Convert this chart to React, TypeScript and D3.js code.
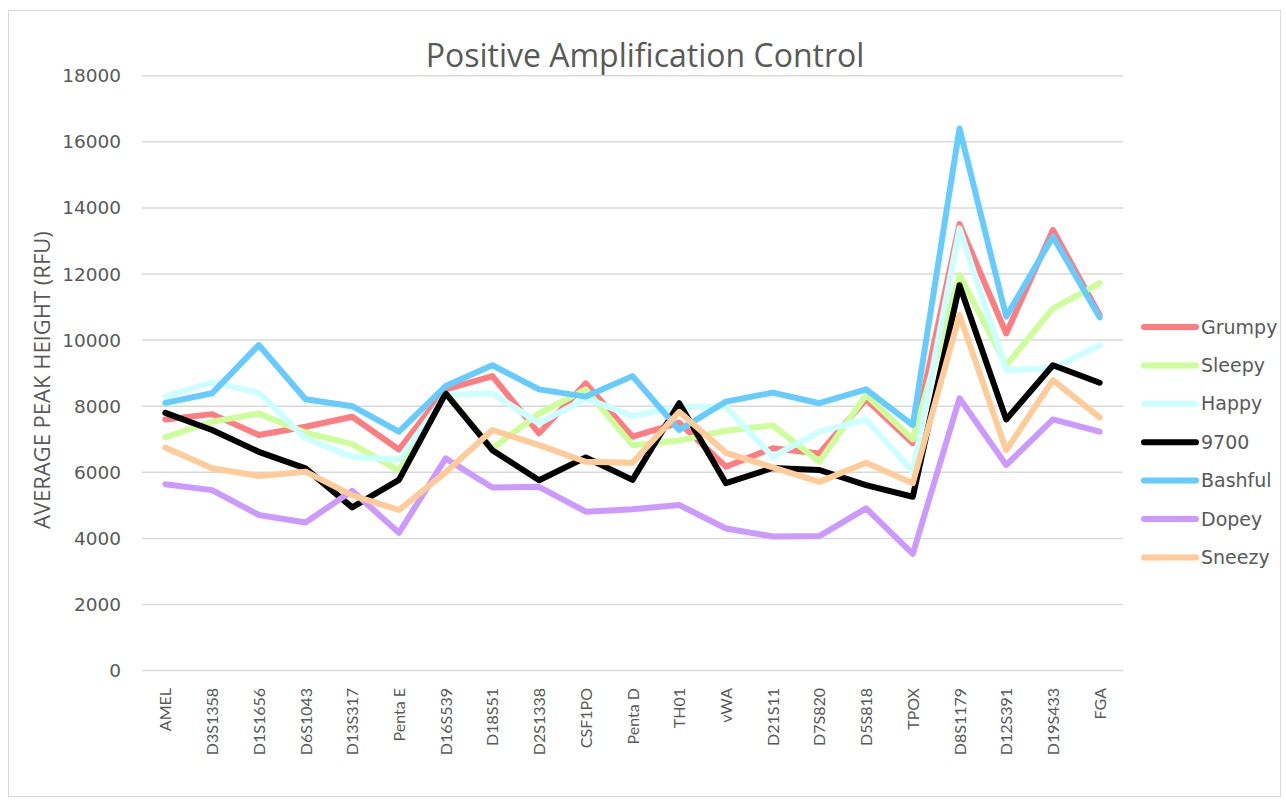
import React from "react";
import * as d3 from "d3";

const categories = ["AMEL","D3S1358","D1S1656","D6S1043","D13S317","Penta E","D16S539","D18S51","D2S1338","CSF1PO","Penta D","TH01","vWA","D21S11","D7S820","D5S818","TPOX","D8S1179","D12S391","D19S433","FGA"];

const grumpy = [7600,7760,7130,7380,7680,6690,8510,8910,7180,8690,7080,7500,6170,6730,6570,8210,6880,13510,10200,13330,10760];
const sleepy = [7060,7530,7780,7200,6850,6050,8400,6720,7780,8510,6820,6960,7260,7420,6320,8340,7000,11970,9240,10960,11720];
const happy = [8290,8720,8410,7030,6470,6390,8340,8390,7480,8240,7700,7980,7980,6470,7230,7600,6020,13380,9090,9140,9850];
const s9700 = [7800,7280,6620,6120,4940,5770,8390,6670,5760,6450,5770,8090,5670,6130,6070,5610,5260,11660,7600,9240,8710];
const bashful = [8100,8390,9850,8210,8000,7230,8610,9240,8510,8290,8910,7280,8140,8410,8090,8510,7430,16400,10710,13130,10690];
const dopey = [5640,5460,4710,4480,5440,4170,6420,5540,5560,4810,4880,5010,4300,4060,4070,4910,3530,8240,6220,7600,7230];
const sneezy = [6750,6120,5890,6020,5300,4860,6000,7280,6820,6320,6290,7830,6590,6150,5710,6290,5670,10760,6670,8790,7660];

const seriesNames = ["Grumpy","Sleepy","Happy","9700","Bashful","Dopey","Sneezy"];
const seriesValues = [grumpy, sleepy, happy, s9700, bashful, dopey, sneezy];
const seriesColors = ["#FF7C80","#CCFF99","#CCFFFF","#000000","#66CCFF","#CC99FF","#FFCC99"];

const yTicks = [0,2000,4000,6000,8000,10000,12000,14000,16000,18000];

export default function App() {
  const W = 1286, H = 803;
  const left = 142, right = 1123, top = 75.7, bottom = 670.6;
  const x = d3.scaleBand<string>().domain(categories).range([left, right]);
  const y = d3.scaleLinear().domain([0, 18000]).range([bottom, top]);
  const line = d3.line<number>()
    .x((_, i) => (x(categories[i]) as number) + x.bandwidth() / 2)
    .y((v) => y(v));
  const font = "Lato, 'Open Sans', sans-serif";
  const wide = "'DejaVu Sans', Verdana, sans-serif";
  const titleFont = "'Open Sans', Lato, sans-serif";
  const textColor = "#595959";
  return (
    <svg width={W} height={H} style={{ position: "absolute", left: 0, top: 0, background: "#fff" }}>
      <rect x={8.5} y={10.5} width={1272} height={786} fill="#fff" stroke="#d9d9d9" />
      <text x={645} y={67} textAnchor="middle" fontFamily={titleFont} fontSize={32} fill={textColor}>
        Positive Amplification Control
      </text>
      {yTicks.map((t) => (
        <g key={t}>
          <line x1={left} x2={right} y1={y(t)} y2={y(t)} stroke="#d9d9d9" strokeWidth={1.5} />
          <text x={121} y={y(t) + 6.5} textAnchor="end" fontFamily={wide} fontSize={18.5} fill={textColor}>
            {t}
          </text>
        </g>
      ))}
      <text
        transform={`translate(50, ${(top + bottom) / 2 + 7}) rotate(-90)`}
        textAnchor="middle"
        fontFamily={titleFont}
        fontSize={22}
        fill={textColor}
      >
        AVERAGE PEAK HEIGHT (RFU)
      </text>
      {categories.map((c) => {
        const cx = (x(c) as number) + x.bandwidth() / 2;
        return (
          <text
            key={c}
            transform={`translate(${cx + 6}, 688) rotate(-90)`}
            textAnchor="end"
            fontFamily={font}
            fontSize={16}
            fill={textColor}
          >
            {c}
          </text>
        );
      })}
      {seriesValues.map((vals, i) => (
        <path
          key={seriesNames[i]}
          d={line(vals) || ""}
          fill="none"
          stroke={seriesColors[i]}
          strokeWidth={6}
          strokeLinejoin="round"
          strokeLinecap="round"
        />
      ))}
      {seriesNames.map((n, i) => {
        const ly = 327 + i * 38.4;
        return (
          <g key={n}>
            <line x1={1144} x2={1196} y1={ly} y2={ly} stroke={seriesColors[i]} strokeWidth={6} strokeLinecap="round" />
            <text x={1201} y={ly + 6.5} fontFamily={wide} fontSize={19} fill={textColor}>
              {n}
            </text>
          </g>
        );
      })}
    </svg>
  );
}
